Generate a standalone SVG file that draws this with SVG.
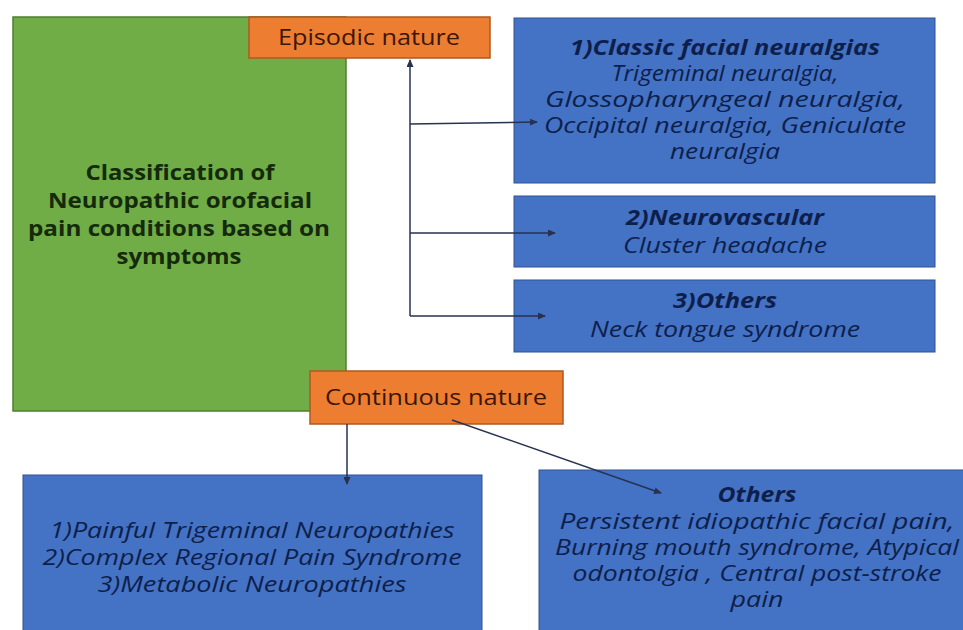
<svg xmlns="http://www.w3.org/2000/svg" width="963" height="630" viewBox="0 0 963 630">
<defs>
<marker id="arr" markerUnits="userSpaceOnUse" markerWidth="8" markerHeight="7" refX="7" refY="3.5" orient="auto">
<path d="M0,0 L8,3.5 L0,7 z" fill="#26324f"/>
</marker>
<style>
.green{fill:#70AD47;stroke:#507E32;stroke-width:1.5}
.orange{fill:#ED7D31;stroke:#AE5A21;stroke-width:1.5}
.blue{fill:#4472C4;stroke:#2F528F;stroke-width:1}
.t{font-family:"Open Sans","Liberation Sans",sans-serif;text-anchor:middle}
.gt{font-size:21px;font-weight:bold;fill:#142a0a}
.ot{font-size:21px;font-weight:500;fill:#3b1606}
.bt{font-size:21px;font-style:italic;font-weight:500;fill:#0e1f4c}
.bb{font-weight:bold}
.conn{stroke:#26324f;stroke-width:1.5;fill:none;marker-end:url(#arr)}
</style>
</defs>
<rect width="963" height="630" fill="#ffffff"/>
<g id="classification">
<rect class="green" x="13" y="17" width="333" height="394"/>
<text class="t gt" x="180" y="180" textLength="189" lengthAdjust="spacingAndGlyphs">Classification of</text>
<text class="t gt" x="180" y="208" textLength="264" lengthAdjust="spacingAndGlyphs">Neuropathic orofacial</text>
<text class="t gt" x="179" y="236" textLength="302" lengthAdjust="spacingAndGlyphs">pain conditions based on</text>
<text class="t gt" x="179" y="264" textLength="125" lengthAdjust="spacingAndGlyphs">symptoms</text>
</g>
<g id="episodic">
<rect class="orange" x="249" y="17" width="241" height="41"/>
<text class="t ot" x="369" y="45" textLength="182" lengthAdjust="spacingAndGlyphs">Episodic nature</text>
</g>
<g id="classic">
<rect class="blue" x="514" y="18" width="421" height="165"/>
<text class="t bt bb" x="725" y="55" textLength="310" lengthAdjust="spacingAndGlyphs">1)Classic facial neuralgias</text>
<text class="t bt" x="725" y="81" textLength="227" lengthAdjust="spacingAndGlyphs">Trigeminal neuralgia,</text>
<text class="t bt" x="725" y="107" textLength="360" lengthAdjust="spacingAndGlyphs">Glossopharyngeal neuralgia,</text>
<text class="t bt" x="725" y="133" textLength="362" lengthAdjust="spacingAndGlyphs">Occipital neuralgia, Geniculate</text>
<text class="t bt" x="725" y="159" textLength="110" lengthAdjust="spacingAndGlyphs">neuralgia</text>
</g>
<g id="neurovascular">
<rect class="blue" x="514" y="196" width="421" height="71"/>
<text class="t bt bb" x="725" y="225" textLength="198" lengthAdjust="spacingAndGlyphs">2)Neurovascular</text>
<text class="t bt" x="725" y="253" textLength="204" lengthAdjust="spacingAndGlyphs">Cluster headache</text>
</g>
<g id="others-episodic">
<rect class="blue" x="514" y="280" width="421" height="72"/>
<text class="t bt bb" x="725" y="308" textLength="104" lengthAdjust="spacingAndGlyphs">3)Others</text>
<text class="t bt" x="725" y="337" textLength="270" lengthAdjust="spacingAndGlyphs">Neck tongue syndrome</text>
</g>
<g id="continuous">
<rect class="orange" x="310" y="371" width="253" height="53"/>
<text class="t ot" x="436" y="405" textLength="222" lengthAdjust="spacingAndGlyphs">Continuous nature</text>
</g>
<g id="continuous-main">
<rect class="blue" x="23" y="475" width="459" height="165"/>
<text class="t bt" x="252" y="538" textLength="405" lengthAdjust="spacingAndGlyphs">1)Painful Trigeminal Neuropathies</text>
<text class="t bt" x="252" y="565" textLength="419" lengthAdjust="spacingAndGlyphs">2)Complex Regional Pain Syndrome</text>
<text class="t bt" x="252" y="592" textLength="309" lengthAdjust="spacingAndGlyphs">3)Metabolic Neuropathies</text>
</g>
<g id="others-continuous">
<rect class="blue" x="539" y="470" width="440" height="170"/>
<text class="t bt bb" x="757" y="502" textLength="79" lengthAdjust="spacingAndGlyphs">Others</text>
<text class="t bt" x="757" y="529" textLength="395" lengthAdjust="spacingAndGlyphs">Persistent idiopathic facial pain,</text>
<text class="t bt" x="757" y="555" textLength="404" lengthAdjust="spacingAndGlyphs">Burning mouth syndrome, Atypical</text>
<text class="t bt" x="757" y="581" textLength="369" lengthAdjust="spacingAndGlyphs">odontolgia , Central post-stroke</text>
<text class="t bt" x="757" y="607" textLength="53" lengthAdjust="spacingAndGlyphs">pain</text>
</g>
<g id="connectors">
<path class="conn" d="M410,316 L410,60"/>
<path class="conn" d="M410,124 L537,122"/>
<path class="conn" d="M410,233 L555,233"/>
<path class="conn" d="M410,316 L545,316"/>
<path class="conn" d="M347,424 L347,484"/>
<path class="conn" d="M452,420 L661,493"/>
</g>
</svg>
